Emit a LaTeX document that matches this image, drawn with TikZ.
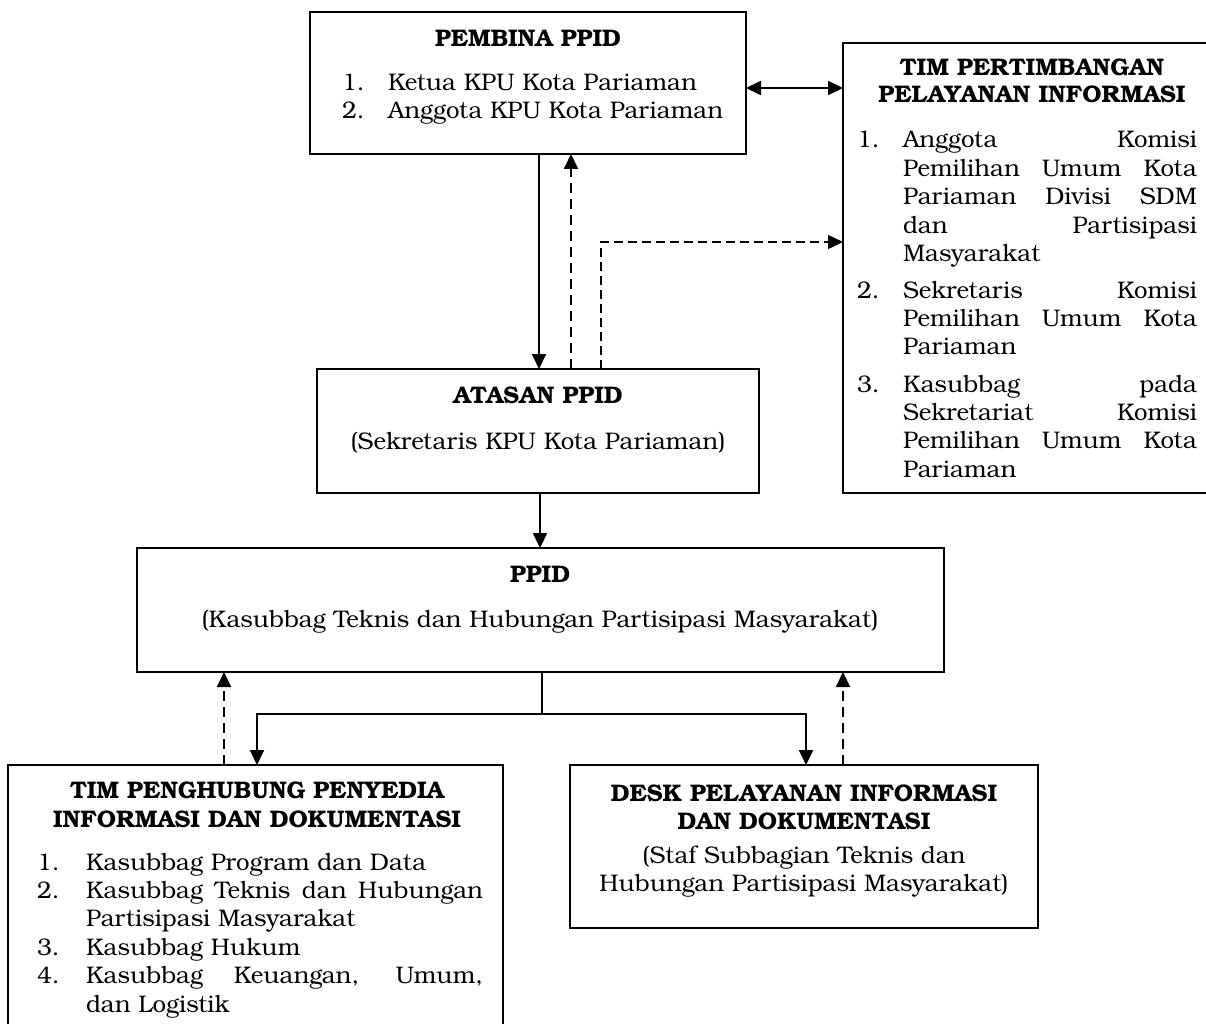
\documentclass[tikz,border=0pt]{standalone}
\usepackage{fontspec}
\setmainfont{texgyrebonum-regular.otf}[BoldFont=texgyrebonum-bold.otf]
\usetikzlibrary{arrows.meta}
\newcommand\diafont{\fontsize{24}{28.4}\selectfont}
\newcommand\jline[2]{\makebox[#1pt][s]{#2}}
\begin{document}
\begin{tikzpicture}[x=1pt,y=-1pt,
  box/.style={draw, line width=2.2pt, inner sep=0pt, outer sep=0pt, anchor=north west},
  txt/.style={inner sep=0pt, outer sep=0pt, anchor=base west, font=\diafont},
  ctr/.style={inner sep=0pt, outer sep=0pt, anchor=base, font=\diafont},
  ttl/.style={inner sep=0pt, outer sep=0pt, anchor=base, font=\diafont\bfseries},
  tip/.style={-{Triangle[length=15pt,width=14pt]}},
  arr/.style={line width=2pt, tip},
  darr/.style={line width=2pt, tip, dash pattern=on 10pt off 6pt},
  tdarr/.style={line width=1.4pt, tip, dash pattern=on 9pt off 5pt},
  stem/.style={line width=1.2pt}]
\useasboundingbox (0,0) rectangle (1206,1024);
\clip (0,0) rectangle (1206,1024);

% boxes
\node[box, minimum width=436pt, minimum height=142pt] (pembina) at (310,12) {};
\node[box, minimum width=378pt, minimum height=450pt] (tim) at (843,43) {};
\node[box, minimum width=442pt, minimum height=124pt] (atasan) at (317,369) {};
\node[box, minimum width=807pt, minimum height=124pt] (ppid) at (137,548) {};
\node[box, minimum width=495pt, minimum height=290pt] (penghub) at (8,765) {};
\node[box, minimum width=468pt, minimum height=163pt] (desk) at (570,765) {};

% Pembina text
\node[ttl] (pembinaT) at (528,47) {PEMBINA PPID};
\node[txt] (pb1n) at (342,91) {1.};
\node[txt] (pb1) at (388,91) {Ketua KPU Kota Pariaman};
\node[txt] (pb2n) at (342,119) {2.};
\node[txt] (pb2) at (388,119) {Anggota KPU Kota Pariaman};

% Tim pertimbangan text
\node[ttl] (timT1) at (1032,76) {TIM PERTIMBANGAN};
\node[ttl] (timT2) at (1032,103) {PELAYANAN INFORMASI};
\node[txt] (t1n) at (857,148) {1.};
\node[txt] (t1a) at (903,148) {\jline{294}{Anggota Komisi}};
\node[txt] (t1b) at (903,176.4) {\jline{294}{Pemilihan Umum Kota}};
\node[txt] (t1c) at (903,204.8) {\jline{294}{Pariaman Divisi SDM}};
\node[txt] (t1d) at (903,233.2) {\jline{294}{dan Partisipasi}};
\node[txt] (t1e) at (903,261.6) {Masyarakat};
\node[txt] (t2n) at (857,298) {2.};
\node[txt] (t2a) at (903,298) {\jline{294}{Sekretaris Komisi}};
\node[txt] (t2b) at (903,326.4) {\jline{294}{Pemilihan Umum Kota}};
\node[txt] (t2c) at (903,354.8) {Pariaman};
\node[txt] (t3n) at (857,392) {3.};
\node[txt] (t3a) at (903,392) {\jline{294}{Kasubbag pada}};
\node[txt] (t3b) at (903,420.4) {\jline{294}{Sekretariat Komisi}};
\node[txt] (t3c) at (903,448.8) {\jline{294}{Pemilihan Umum Kota}};
\node[txt] (t3d) at (903,477.2) {Pariaman};

% Atasan text
\node[ttl] (atasanT) at (538,403) {ATASAN PPID};
\node[ctr] (atasanS) at (538,449) {(Sekretaris KPU Kota Pariaman)};

% PPID text
\node[ttl] (ppidT) at (540,582) {PPID};
\node[ctr] (ppidS) at (540,627) {(Kasubbag Teknis dan Hubungan Partisipasi Masyarakat)};

% Tim penghubung text
\node[ttl] (phT1) at (257,798) {TIM PENGHUBUNG PENYEDIA};
\node[ttl] (phT2) at (257,827) {INFORMASI DAN DOKUMENTASI};
\node[txt] (ph1n) at (37,870) {1.};
\node[txt] (ph1) at (86,870) {Kasubbag Program dan Data};
\node[txt] (ph2n) at (37,898.4) {2.};
\node[txt] (ph2a) at (86,898.4) {\jline{397}{Kasubbag Teknis dan Hubungan}};
\node[txt] (ph2b) at (86,926.8) {Partisipasi Masyarakat};
\node[txt] (ph3n) at (37,955.2) {3.};
\node[txt] (ph3) at (86,955.2) {Kasubbag Hukum};
\node[txt] (ph4n) at (37,983.6) {4.};
\node[txt] (ph4a) at (86,983.6) {\jline{397}{Kasubbag Keuangan, Umum,}};
\node[txt] (ph4b) at (86,1012) {dan Logistik};

% Desk text
\node[ttl] (deskT1) at (804,801) {DESK PELAYANAN INFORMASI};
\node[ttl] (deskT2) at (804,829) {DAN DOKUMENTASI};
\node[ctr] (deskS1) at (804,863) {(Staf Subbagian Teknis dan};
\node[ctr] (deskS2) at (804,891) {Hubungan Partisipasi Masyarakat)};

% connectors
\draw[line width=2pt, {Triangle[length=15pt,width=14pt]}-{Triangle[length=15pt,width=14pt]}]
  ([yshift=-5pt]pembina.east) -- ([yshift=-5pt]pembina.east -| tim.west);
\draw[arr] ([xshift=11pt]pembina.south) -- ([xshift=11pt]pembina.south |- atasan.north);
\draw[darr] ([xshift=33pt]atasan.north) -- ([xshift=33pt]atasan.north |- pembina.south);
\draw[tdarr] ([xshift=63pt]atasan.north) |- ([yshift=26pt]tim.west);
\draw[arr] ([xshift=2pt]atasan.south) -- ([xshift=2pt]atasan.south |- ppid.north);
\coordinate (br) at (542,714);
\draw[stem] (ppid.south -| br) -- (br);
\draw[arr] (br) -| ([xshift=1.5pt]penghub.north);
\draw[arr] (br) -| ([xshift=2pt]desk.north);
\draw[darr] ([xshift=-31.5pt]penghub.north) -- ([xshift=-31.5pt]penghub.north |- ppid.south);
\draw[darr] ([xshift=39pt]desk.north) -- ([xshift=39pt]desk.north |- ppid.south);
\end{tikzpicture}
\end{document}
